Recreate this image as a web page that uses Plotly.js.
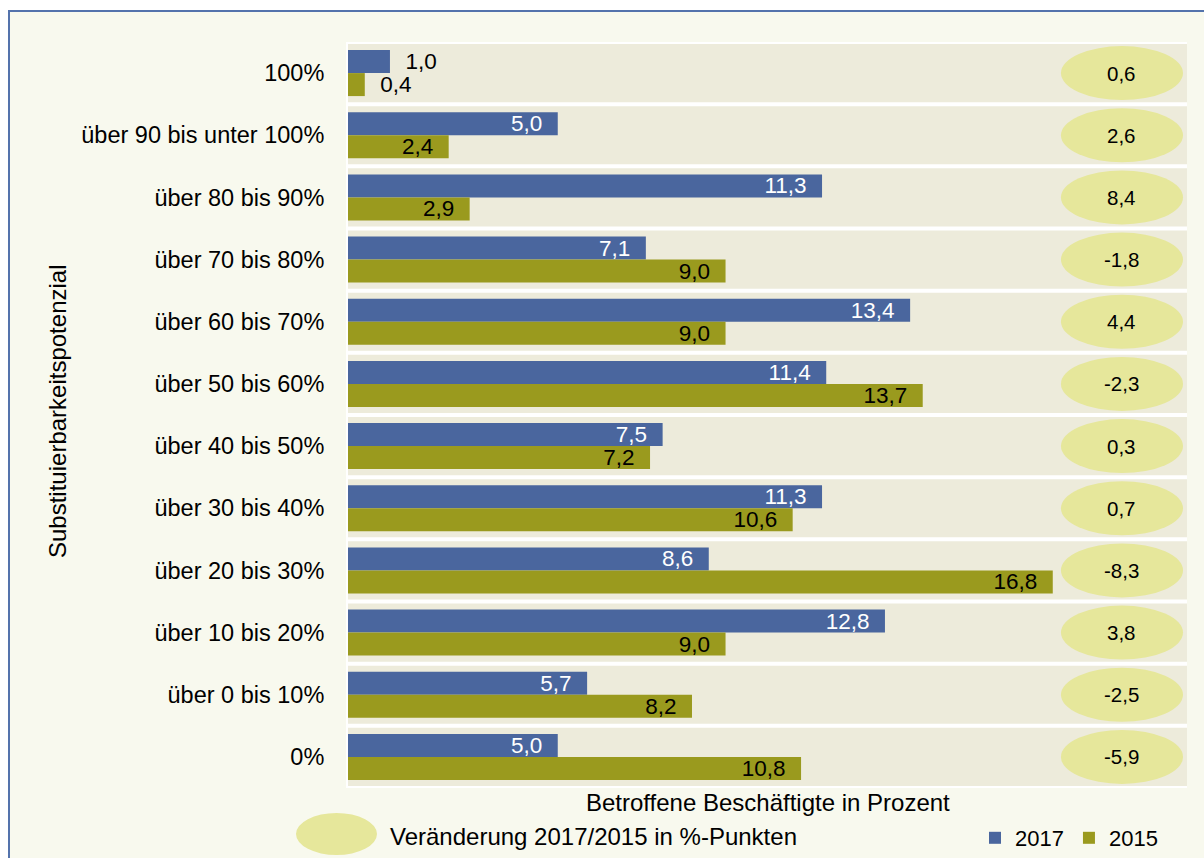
<!DOCTYPE html>
<html>
<head>
<meta charset="utf-8">
<script src="https://cdn.plot.ly/plotly-3.0.1.min.js"></script>
<style>
  html, body { margin: 0; padding: 0; background: #fff; }
  #chart { width: 1204px; height: 858px; }
</style>
</head>
<body>
<div id="chart"></div>
<script>
// Substituierbarkeitspotenzial, Anteil Beschaeftigte 2017 vs 2015
const categories = [
  "100%", "über 90 bis unter 100%", "über 80 bis 90%", "über 70 bis 80%",
  "über 60 bis 70%", "über 50 bis 60%", "über 40 bis 50%", "über 30 bis 40%",
  "über 20 bis 30%", "über 10 bis 20%", "über 0 bis 10%", "0%"
];
const values2017 = [1.0, 5.0, 11.3, 7.1, 13.4, 11.4, 7.5, 11.3, 8.6, 12.8, 5.7, 5.0];
const values2015 = [0.4, 2.4, 2.9, 9.0, 9.0, 13.7, 7.2, 10.6, 16.8, 9.0, 8.2, 10.8];
const change = [0.6, 2.6, 8.4, -1.8, 4.4, -2.3, 0.3, 0.7, -8.3, 3.8, -2.5, -5.9];
const pos2017 = ["outside", "inside", "inside", "inside", "inside", "inside",
  "inside", "inside", "inside", "inside", "inside", "inside"];
const pos2015 = ["outside", "inside", "inside", "inside", "inside", "inside",
  "inside", "inside", "inside", "inside", "inside", "inside"];

const W = 1204, H = 858;
const ML = 348, MR = 17, MT = 42, MB = 70;
const PW = W - ML - MR, PH = H - MT - MB;
const FONT = "Liberation Sans, Arial, sans-serif";
const BLUE = "#4a669e", OLIVE = "#9a9a1e", OVAL = "#e6e79b";
const BAND = "#edebdb", CREAM = "#f8f9ee", FRAME = "#5473ac";

// pixel -> paper helpers for the decoration
const pxX = (p) => (p - ML) / PW;
const pxY = (p) => (H - MB - p) / PH;

const ovalX = 18.45, ovalHalfW = 1.455, ovalHalfH = 0.434;
const fmt = (v) => v.toFixed(1).replace(".", ",");
// excel-like padding between bar end and label
const pad = "\u00a0\u00a0";
const labelTpl = (positions) => positions.map((p) =>
  p === "outside" ? pad + "%{x:.1f}" : "%{x:.1f}" + pad);

var shapes = [
  { type: "rect", xref: "paper", yref: "paper", layer: "below",
    x0: pxX(9), x1: pxX(1230), y0: pxY(11), y1: pxY(900),
    fillcolor: CREAM, line: { color: FRAME, width: 2 } },
  { type: "rect", xref: "paper", yref: "paper", layer: "below",
    x0: pxX(346), x1: 1, y0: 0, y1: 1,
    fillcolor: "#ffffff", line: { width: 0 } },
  { type: "circle", xref: "paper", yref: "paper", layer: "below",
    x0: pxX(296), x1: pxX(377), y0: pxY(855), y1: pxY(813),
    fillcolor: OVAL, line: { width: 0 } }
];
categories.forEach((c, i) => {
  shapes.push({ type: "rect", xref: "paper", yref: "y", layer: "below",
    x0: 0, x1: 1, y0: i - 0.468, y1: i + 0.468,
    fillcolor: BAND, line: { width: 0 } });
  shapes.push({ type: "circle", xref: "x", yref: "y", layer: "below",
    x0: ovalX - ovalHalfW, x1: ovalX + ovalHalfW,
    y0: i - ovalHalfH, y1: i + ovalHalfH,
    fillcolor: OVAL, line: { width: 0 } });
});

var annotations = change.map((v, i) => ({
  x: ovalX, y: i, xref: "x", yref: "y", text: fmt(v), showarrow: false,
  font: { family: FONT, size: 20.5, color: "#000" }
}));
annotations.push({
  x: pxX(57), y: pxY(411), xref: "paper", yref: "paper", textangle: -90,
  text: "Substituierbarkeitspotenzial", showarrow: false,
  xanchor: "center", yanchor: "middle",
  font: { family: FONT, size: 24, color: "#000" }
});
annotations.push({
  x: 0.5, y: pxY(803), xref: "paper", yref: "paper",
  text: "Betroffene Beschäftigte in Prozent", showarrow: false,
  xanchor: "center", yanchor: "middle",
  font: { family: FONT, size: 24, color: "#000" }
});
annotations.push({
  x: pxX(388), y: pxY(836), xref: "paper", yref: "paper",
  text: "Veränderung 2017/2015 in %-Punkten", showarrow: false,
  xanchor: "left", yanchor: "middle",
  font: { family: FONT, size: 24, color: "#000" }
});

var data = [
  {
    type: "bar", orientation: "h", name: "2017",
    y: categories, x: values2017,
    marker: { color: BLUE },
    texttemplate: labelTpl(pos2017),
    textposition: pos2017, insidetextanchor: "end", constraintext: "none",
    insidetextfont: { family: FONT, size: 22.5, color: "#ffffff" },
    outsidetextfont: { family: FONT, size: 22.5, color: "#000" },
    cliponaxis: false, hoverinfo: "x+y"
  },
  {
    type: "bar", orientation: "h", name: "2015",
    y: categories, x: values2015,
    marker: { color: OLIVE },
    texttemplate: labelTpl(pos2015),
    textposition: pos2015, insidetextanchor: "end", constraintext: "none",
    insidetextfont: { family: FONT, size: 22.5, color: "#000" },
    outsidetextfont: { family: FONT, size: 22.5, color: "#000" },
    cliponaxis: false, hoverinfo: "x+y"
  }
];

var layout = {
  width: W, height: H,
  margin: { l: ML, r: MR, t: MT, b: MB, pad: 0, autoexpand: false },
  paper_bgcolor: "#ffffff",
  plot_bgcolor: "#ffffff",
  separators: ", ",
  font: { family: FONT, size: 22, color: "#000" },
  barmode: "group",
  bargap: 0.26,
  bargroupgap: 0,
  showlegend: true,
  legend: {
    orientation: "h", x: pxX(975), y: pxY(838),
    xanchor: "left", yanchor: "middle",
    bgcolor: "rgba(0,0,0,0)", font: { family: FONT, size: 22, color: "#000" }
  },
  xaxis: {
    range: [0, 20], showgrid: false, zeroline: false,
    showticklabels: false, ticks: "", fixedrange: true
  },
  yaxis: {
    type: "category", categoryorder: "array", categoryarray: categories,
    autorange: "reversed", showgrid: false, zeroline: false,
    ticks: "outside", ticklen: 18, tickcolor: "rgba(0,0,0,0)",
    tickfont: { family: FONT, size: 23.5, color: "#000" }, fixedrange: true
  },
  shapes: shapes,
  annotations: annotations
};

Plotly.newPlot(document.getElementById("chart"), data, layout, { displayModeBar: false });
</script>
</body>
</html>
